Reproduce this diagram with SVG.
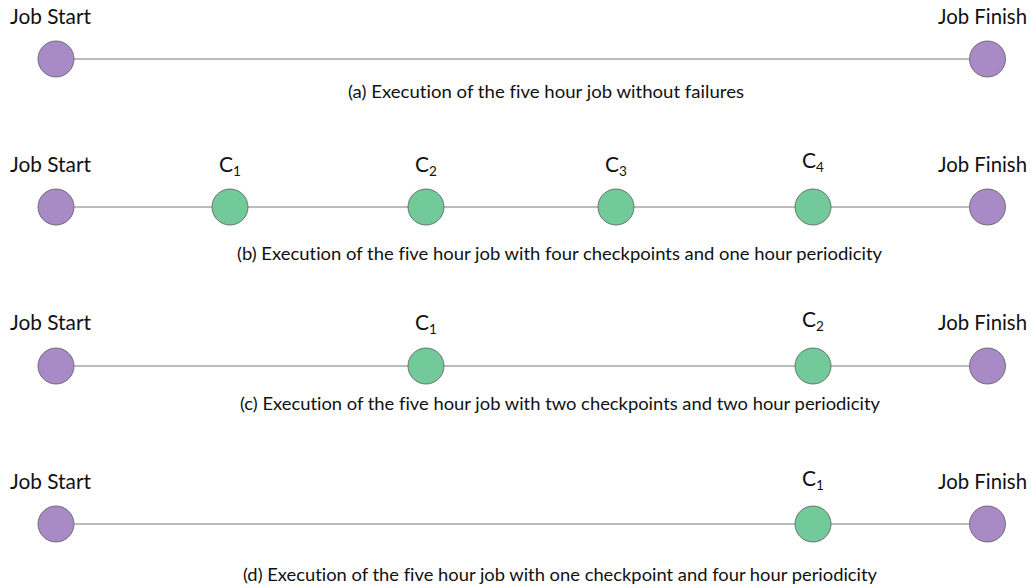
<svg xmlns="http://www.w3.org/2000/svg" width="1031" height="588" viewBox="0 0 1031 588">
<style>
text{font-family:Lato,"Liberation Sans",sans-serif;fill:#111;font-variant-ligatures:none}
.lbl{font-size:21px}
.cap{font-size:17px;text-anchor:middle}
.ck{font-size:21px;text-anchor:middle}
.sub{font-size:13.5px}
.ln{stroke:#a6a6a6;stroke-width:1.5;fill:none}
.job{fill:#a88bc6;stroke:#5a5a5a;stroke-width:0.8}
.chk{fill:#72c99a;stroke:#5a5a5a;stroke-width:0.8}
</style>
<g id="connectors">
<line class="ln" x1="74" y1="59" x2="969" y2="59"/>
<line class="ln" x1="74" y1="207" x2="969" y2="207"/>
<line class="ln" x1="74" y1="366" x2="969" y2="366"/>
<line class="ln" x1="74" y1="524" x2="969" y2="524"/>
</g>
<g id="row-a">
<g id="a-start"><text class="lbl" x="10" y="24" textLength="81" lengthAdjust="spacingAndGlyphs">Job Start</text><circle class="job" cx="56" cy="59" r="18"/></g>
<g id="a-finish"><text class="lbl" x="938" y="24" textLength="89" lengthAdjust="spacingAndGlyphs">Job Finish</text><circle class="job" cx="987.5" cy="59" r="18"/></g>
<text class="cap" x="546" y="98" textLength="396" lengthAdjust="spacingAndGlyphs">(a) Execution of the five hour job without failures</text>
</g>
<g id="row-b">
<g id="b-start"><text class="lbl" x="10" y="172" textLength="81" lengthAdjust="spacingAndGlyphs">Job Start</text><circle class="job" cx="56" cy="207" r="18"/></g>
<g id="b-c1"><text class="ck" x="230" y="172">C<tspan class="sub" dy="4">1</tspan></text><circle class="chk" cx="230" cy="207" r="18"/></g>
<g id="b-c2"><text class="ck" x="426" y="172">C<tspan class="sub" dy="4">2</tspan></text><circle class="chk" cx="426" cy="207" r="18"/></g>
<g id="b-c3"><text class="ck" x="616" y="172">C<tspan class="sub" dy="4">3</tspan></text><circle class="chk" cx="616" cy="207" r="18"/></g>
<g id="b-c4"><text class="ck" x="813" y="168">C<tspan class="sub" dy="4">4</tspan></text><circle class="chk" cx="813" cy="207" r="18"/></g>
<g id="b-finish"><text class="lbl" x="938" y="172" textLength="89" lengthAdjust="spacingAndGlyphs">Job Finish</text><circle class="job" cx="987.5" cy="207" r="18"/></g>
<text class="cap" x="559.5" y="260" textLength="645" lengthAdjust="spacingAndGlyphs">(b) Execution of the five hour job with four checkpoints and one hour periodicity</text>
</g>
<g id="row-c">
<g id="c-start"><text class="lbl" x="10" y="330" textLength="81" lengthAdjust="spacingAndGlyphs">Job Start</text><circle class="job" cx="56" cy="366" r="18"/></g>
<g id="c-c1"><text class="ck" x="426" y="330">C<tspan class="sub" dy="4">1</tspan></text><circle class="chk" cx="426" cy="366" r="18"/></g>
<g id="c-c2"><text class="ck" x="813" y="327">C<tspan class="sub" dy="4">2</tspan></text><circle class="chk" cx="813" cy="366" r="18"/></g>
<g id="c-finish"><text class="lbl" x="938" y="330" textLength="89" lengthAdjust="spacingAndGlyphs">Job Finish</text><circle class="job" cx="987.5" cy="366" r="18"/></g>
<text class="cap" x="560" y="410" textLength="640" lengthAdjust="spacingAndGlyphs">(c) Execution of the five hour job with two checkpoints and two hour periodicity</text>
</g>
<g id="row-d">
<g id="d-start"><text class="lbl" x="10" y="489" textLength="81" lengthAdjust="spacingAndGlyphs">Job Start</text><circle class="job" cx="56" cy="524" r="18"/></g>
<g id="d-c1"><text class="ck" x="813" y="486">C<tspan class="sub" dy="4">1</tspan></text><circle class="chk" cx="813" cy="524" r="18"/></g>
<g id="d-finish"><text class="lbl" x="938" y="489" textLength="89" lengthAdjust="spacingAndGlyphs">Job Finish</text><circle class="job" cx="987.5" cy="524" r="18"/></g>
<text class="cap" x="560" y="581" textLength="634" lengthAdjust="spacingAndGlyphs">(d) Execution of the five hour job with one checkpoint and four hour periodicity</text>
</g>
</svg>
